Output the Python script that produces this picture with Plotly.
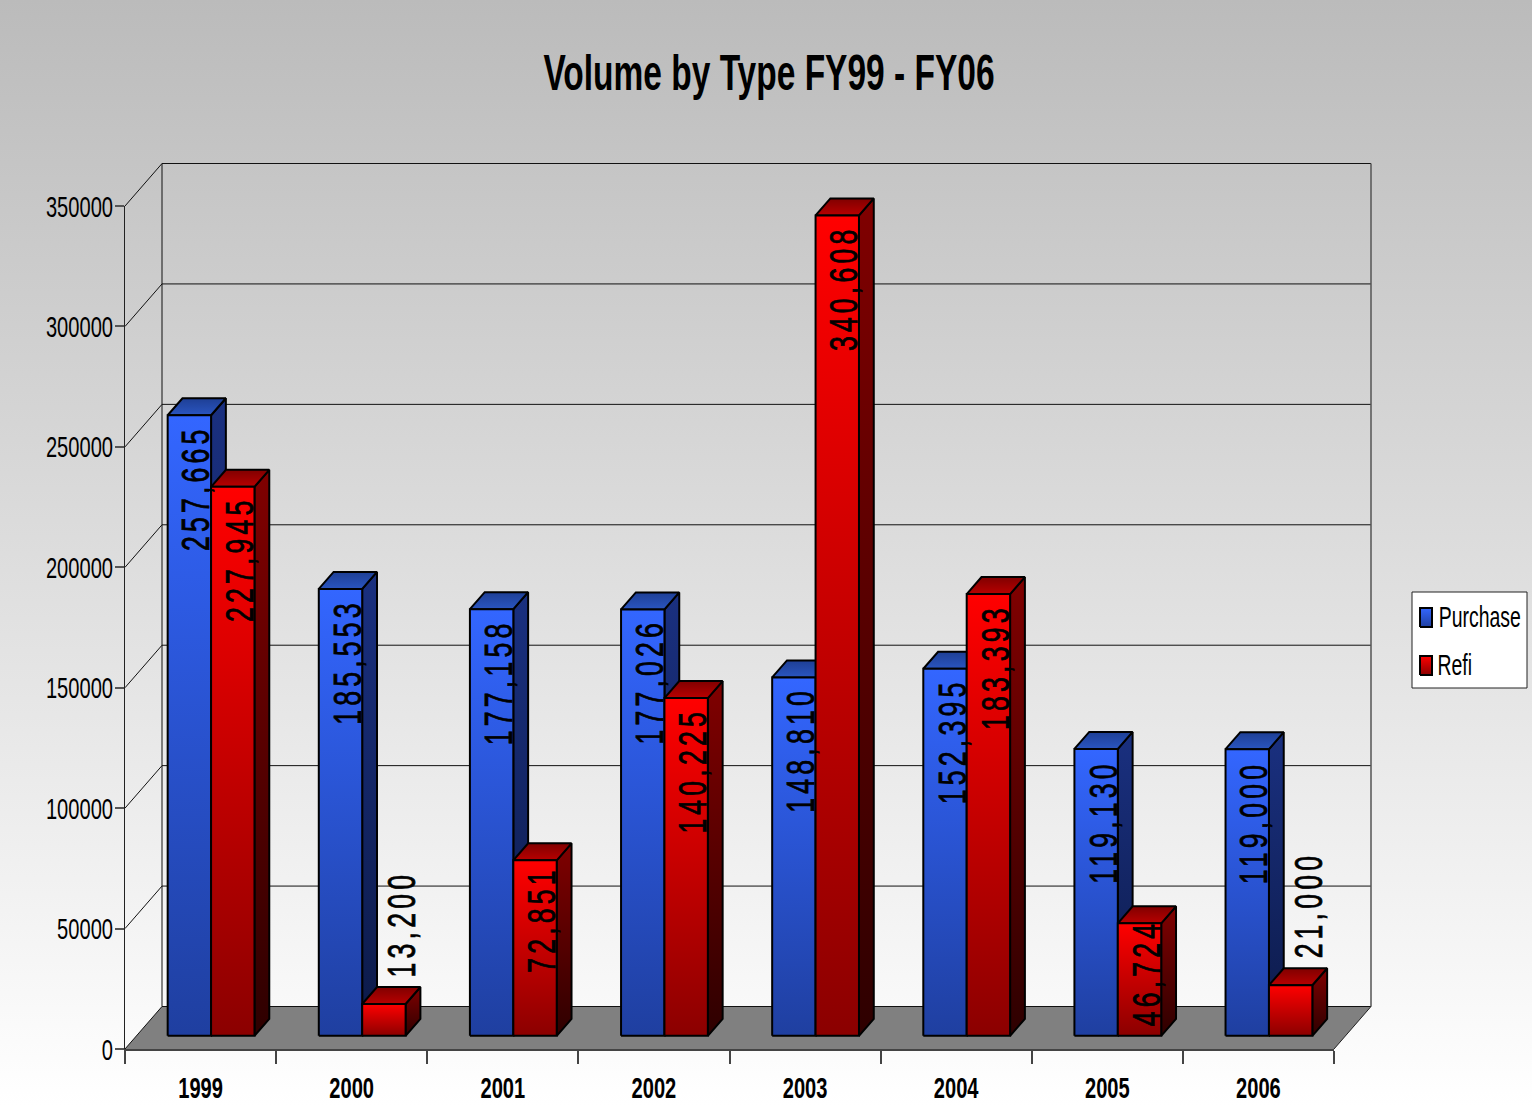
import plotly.graph_objects as go

TITLE = "Volume by Type FY99 - FY06"
years = ["1999", "2000", "2001", "2002", "2003", "2004", "2005", "2006"]
purchase = [257665, 185553, 177158, 177026, 148810, 152395, 119130, 119000]
refi = [227945, 13200, 72851, 140225, 340608, 183393, 46724, 21000]
y_ticks = [0, 50000, 100000, 150000, 200000, 250000, 300000, 350000]

W, H = 1532, 1106
L, R, T, B = 125, 1334, 206, 1049
FONT = "Liberation Sans, Arial, sans-serif"
PX_X = (R - L) / 8
PX_Y = (B - T) / 350000


def X(px):
    return (px - L) / PX_X


def Y(py):
    return (B - py) / PX_Y


DX = 37 / PX_X
DY = 42.5 / PX_Y
GAP = 31.2 / PX_X
BAR_W = 43.4 / PX_X
D0, D1 = 0.31, 0.71


def pt(x, y, d):
    return x + d * DX, y + d * DY


def poly(points, low, high, line="black", width=2):
    xs = [p[0] for p in points] + [points[0][0]]
    ys = [p[1] for p in points] + [points[0][1]]
    return go.Scatter(
        x=xs, y=ys, mode="lines", fill="toself",
        line=dict(color=line, width=width), hoverinfo="skip", showlegend=False,
        fillgradient=dict(type="vertical", colorscale=[[0, low], [1, high]]),
    )


def lines(segments, color, width):
    xs, ys = [], []
    for a, b in segments:
        xs += [a[0], b[0], None]
        ys += [a[1], b[1], None]
    return go.Scatter(x=xs, y=ys, mode="lines", hoverinfo="skip",
                      showlegend=False, line=dict(color=color, width=width))


fig = go.Figure()

# page background
fig.add_trace(poly([(X(0), Y(H)), (X(W), Y(H)), (X(W), Y(0)), (X(0), Y(0))],
                   "#ffffff", "#bbbbbb", line="rgba(0,0,0,0)", width=0))

# floor
fig.add_trace(poly([pt(0, 0, 0), pt(8, 0, 0), pt(8, 0, 1), pt(0, 0, 1)],
                   "#808080", "#808080", line="rgba(0,0,0,0)", width=0))

# walls and grid
fig.add_trace(lines([(pt(0, v, 1), pt(8, v, 1)) for v in y_ticks] +
                    [(pt(0, v, 0), pt(0, v, 1)) for v in y_ticks] +
                    [(pt(0, 0, 1), pt(0, 350000, 1))], "#111111", 1))
fig.add_trace(lines([(pt(8, 0, 0), pt(8, 0, 1))], "#222222", 1))
fig.add_trace(lines([(pt(8, 0, 1), pt(8, 350000, 1))], "#555555", 1.5))

STYLES = {
    "p": dict(front=("#1f3fa0", "#3366ff"), side=("#0c1a48", "#1a3080"), top=("#2a55c0", "#1e3f95")),
    "r": dict(front=("#8b0000", "#ff0000"), side=("#2e0000", "#800000"), top=("#b80000", "#800000")),
}


def add_bar(x0, value, style):
    x1 = x0 + BAR_W
    s = STYLES[style]
    fig.add_trace(poly([pt(x1, 0, D0), pt(x1, 0, D1), pt(x1, value, D1), pt(x1, value, D0)], *s["side"]))
    fig.add_trace(poly([pt(x0, value, D0), pt(x1, value, D0), pt(x1, value, D1), pt(x0, value, D1)], *s["top"]))
    fig.add_trace(poly([pt(x0, 0, D0), pt(x1, 0, D0), pt(x1, value, D0), pt(x0, value, D0)], *s["front"]))


def label_shift(value):
    if value < 30000:
        return -80
    if value < 60000:
        return 50
    if value < 100000:
        return 59
    return 73


annotations = []


def add_label(x0, value):
    xp = pt(x0, value, D0)
    small = value < 30000
    annotations.append(dict(
        x=xp[0], y=xp[1], xref="x", yref="y", text=f"{value:,}", showarrow=False,
        textangle=-90, xshift=40 if small else 29, yshift=-label_shift(value),
        xanchor="center", yanchor="middle",
        font=dict(family=FONT, size=38, color="black"),
    ))


for i in range(len(years)):
    add_bar(i + GAP, purchase[i], "p")
    add_bar(i + GAP + BAR_W, refi[i], "r")
for i in range(len(years)):
    add_label(i + GAP, purchase[i])
    add_label(i + GAP + BAR_W, refi[i])

# legend
fig.add_trace(poly([(X(1412), Y(688)), (X(1527), Y(688)), (X(1527), Y(592)), (X(1412), Y(592))],
                   "#ffffff", "#ffffff", line="#222222", width=1))
for name, top, st, cx in (("Purchase", 608, "p", 1470), ("Refi", 656, "r", 1455)):
    fig.add_trace(poly([(X(1420), Y(top + 19)), (X(1432), Y(top + 19)), (X(1432), Y(top)), (X(1420), Y(top))],
                       *STYLES[st]["front"]))
    annotations.append(dict(
        x=X(cx), y=Y(top + 9), xref="x", yref="y", text=name, showarrow=False,
        xanchor="center", yanchor="middle", font=dict(family=FONT, size=29, color="black"),
    ))

# carrier of the visible axes: the front plane of the 3-D box
fig.add_trace(go.Scatter(x=[0], y=[0], xaxis="x2", yaxis="y2", mode="markers",
                         marker=dict(opacity=0), hoverinfo="skip", showlegend=False))

fig.update_layout(
    width=W, height=H, autosize=False, showlegend=False,
    margin=dict(l=0, r=0, t=0, b=0, pad=0),
    paper_bgcolor="#ffffff", plot_bgcolor="rgba(0,0,0,0)",
    title=dict(text=TITLE, x=769 / W, y=1 - 72 / H, xanchor="center", yanchor="middle",
               xref="container", yref="container",
               font=dict(family=FONT, size=50, color="black", weight="bold")),
    annotations=annotations,
    xaxis=dict(range=[X(0), X(W)], domain=[0, 1], visible=False, fixedrange=True, automargin=False),
    yaxis=dict(range=[Y(H), Y(0)], domain=[0, 1], visible=False, fixedrange=True, automargin=False),
    xaxis2=dict(
        domain=[L / W, R / W], anchor="y2", range=[0, 8], fixedrange=True, automargin=False,
        tickmode="array", tickvals=[i + 0.5 for i in range(8)], ticktext=years,
        ticks="", ticklabelstandoff=11, showgrid=False, zeroline=False, showline=True,
        linecolor="#444444", linewidth=1.5,
        tickfont=dict(family=FONT, size=30, color="black", weight="bold"),
        minor=dict(tickmode="array", tickvals=list(range(9)), ticks="outside", ticklen=13,
                   tickcolor="#444444", tickwidth=1.5, showgrid=False),
    ),
    yaxis2=dict(
        domain=[1 - B / H, 1 - T / H], anchor="x2", range=[0, 350000], fixedrange=True, automargin=False,
        tickmode="array", tickvals=y_ticks, ticktext=[str(v) for v in y_ticks],
        ticks="outside", ticklen=9, tickcolor="#555555", tickwidth=1.5, showgrid=False, zeroline=False,
        showline=True, linecolor="#222222", linewidth=1, ticklabelstandoff=-4,
        tickfont=dict(family=FONT, size=30, color="black"),
    ),
)

# The reference uses a tall, condensed face. Squeeze the real text to that shape.
POST = """
document.body.style.margin = '0';
function squeeze() {
  var gd = document.querySelector('.js-plotly-plot');
  gd.querySelectorAll('.annotation-text').forEach(function (t) {
    if (/^[0-9,]+$/.test(t.textContent)) {
      t.style.letterSpacing = '6px';
      t.style.stroke = 'black';
      t.style.strokeWidth = '0.8px';
      t.dataset.squeeze = '0.70';
    }
    if (t.textContent === 'Purchase') { t.setAttribute('dx', '9.5'); }
  });
  gd.querySelectorAll('.x2tick text, .y2tick text, .gtitle, .annotation-text').forEach(function (t) {
    t.removeAttribute('textLength');
    t.setAttribute('lengthAdjust', 'spacingAndGlyphs');
    var k = parseFloat(t.dataset.squeeze || '0.67');
    t.setAttribute('textLength', t.getComputedTextLength() * k);
  });
}
squeeze();
var plotDiv = document.querySelector('.js-plotly-plot');
if (plotDiv && plotDiv.on) { plotDiv.on('plotly_afterplot', squeeze); }
setTimeout(squeeze, 200);
"""
fig.write_html("out.html", config={"displayModeBar": False}, post_script=POST)
